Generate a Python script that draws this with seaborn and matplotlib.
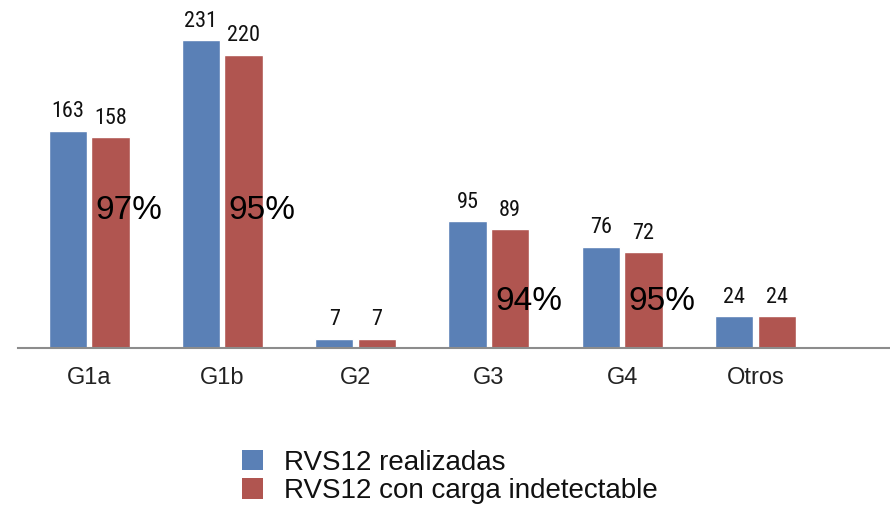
import matplotlib
matplotlib.use("Agg")
import matplotlib.pyplot as plt
from matplotlib.patches import Patch
from matplotlib import font_manager
import seaborn as sns
import pandas as pd

# Genotype groups and their SVR12 counts
genotipos = ["G1a", "G1b", "G2", "G3", "G4", "Otros"]
realizadas = [163, 231, 7, 95, 76, 24]
indetectable = [158, 220, 7, 89, 72, 24]
series = ["RVS12 realizadas", "RVS12 con carga indetectable"]
colores = ["#5A80B6", "#B05550"]

# Percentages shown only for the larger groups
pct_grupos = ["G1a", "G1b", "G3", "G4"]
pct_altura = [103, 103, 35, 35]

df = pd.DataFrame({
    "genotipo": genotipos * 2,
    "valor": realizadas + indetectable,
    "serie": [series[0]] * len(genotipos) + [series[1]] * len(genotipos),
})

sns.set_theme(style="white")
plt.rcParams["font.family"] = ["Liberation Sans", "DejaVu Sans"]

# Narrow face for the bar values, if one is available
nombres = {f.name for f in font_manager.fontManager.ttflist}
fuente_valores = "DejaVu Sans"
for cand in ["Liberation Sans Narrow", "DejaVu Sans Condensed", "Roboto Condensed"]:
    if cand in nombres:
        fuente_valores = cand
        break

fig = plt.figure(figsize=(8.9, 5.09), dpi=100)
ax = fig.add_axes([18 / 890, 1 - 348 / 509, 872 / 890, 348 / 509])

sns.barplot(data=df, x="genotipo", y="valor", hue="serie", order=genotipos,
            hue_order=series, palette=colores, width=0.64, gap=0.1,
            saturation=1, legend=False, ax=ax)

ax.set_xlim(-0.533, 6.01)
ax.set_ylim(0, 261)
ax.set_xlabel("")
ax.set_ylabel("")
ax.set_yticks([])
for s in ["top", "right", "left"]:
    ax.spines[s].set_visible(False)
ax.spines["bottom"].set_color("#8C8C8C")
ax.spines["bottom"].set_linewidth(1.5)
ax.tick_params(axis="x", length=0, pad=14, labelsize=17, labelcolor="#222222")

# Value labels above each bar
for cont in ax.containers:
    ax.bar_label(cont, padding=6, fontsize=16, color="#111111",
                 family=[fuente_valores, "DejaVu Sans"], fontstretch="condensed")

# Share of undetectable load within each group
red_bars = ax.containers[1].patches
for g, h in zip(pct_grupos, pct_altura):
    i = genotipos.index(g)
    pct = round(100 * indetectable[i] / realizadas[i])
    bar = red_bars[i]
    ax.text(bar.get_x() + 0.03, h, f"{pct}%", ha="left", va="center",
            fontsize=24, color="black")

handles = [Patch(facecolor=c, edgecolor="none") for c in colores]
fig.legend(handles, series, loc="upper left", bbox_to_anchor=(228 / 890, 1 - 436 / 509),
           frameon=False, fontsize=20, handlelength=0.75, handleheight=0.75,
           handletextpad=0.75, labelspacing=0.08, borderpad=0,
           labelcolor="#111111")

fig.savefig("out.png", dpi=100)
